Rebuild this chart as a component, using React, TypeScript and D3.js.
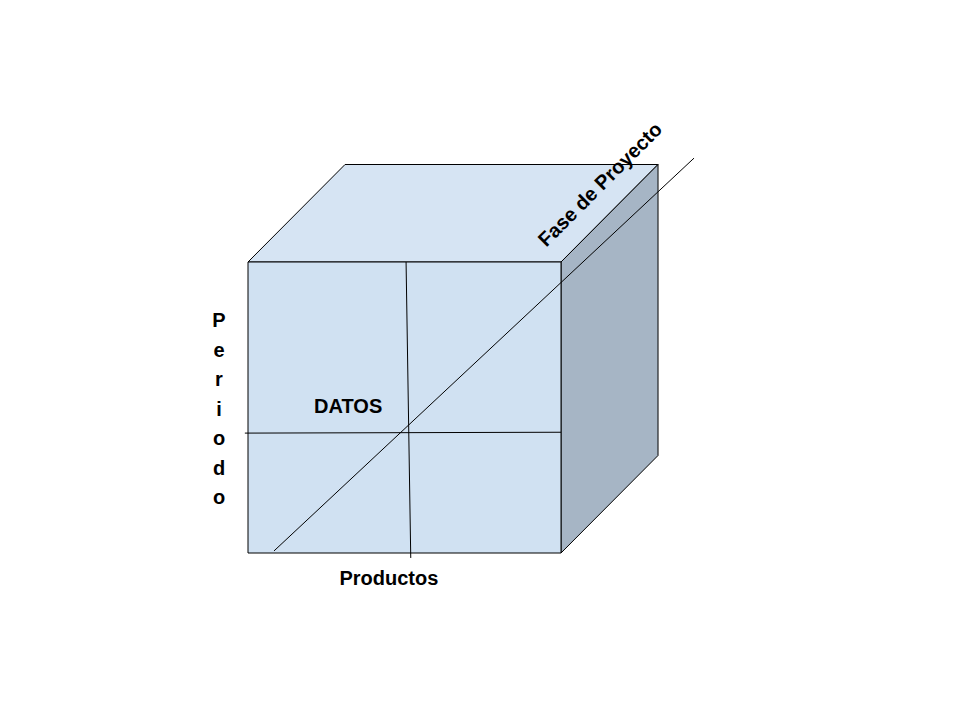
import React from 'react';
import * as d3 from 'd3';

// cube geometry in unit space (front face 0..1, depth offset)
const frontFace: [number, number][] = [[0, 0], [1, 0], [1, 1], [0, 1]];
const depth = { dx: 0.31, dy: 0.335 };
const axisLabels = ['Productos', 'Periodo', 'Fase de Proyecto'];
const centerLabel = 'DATOS';

const W = 960;
const H = 720;

export default function App() {
  const x = d3.scaleLinear().domain([0, 1]).range([248, 561]);
  const y = d3.scaleLinear().domain([0, 1]).range([553, 262]);
  const dxPx = x(depth.dx) - x(0);
  const dyPx = y(0) - y(depth.dy);
  const line = d3.line<[number, number]>().x((d) => d[0]).y((d) => d[1]);
  const front = frontFace.map(([a, b]) => [x(a), y(b)] as [number, number]);
  const top: [number, number][] = [
    [x(0), y(1)], [x(1), y(1)], [x(1) + dxPx, y(1) - dyPx], [x(0) + dxPx, y(1) - dyPx],
  ];
  const right: [number, number][] = [
    [x(1), y(0)], [x(1), y(1)], [x(1) + dxPx, y(1) - dyPx], [x(1) + dxPx, y(0) - dyPx],
  ];
  const font = 'Liberation Sans, Arial, sans-serif';
  const letters = axisLabels[1].split('');
  return (
    <svg width={W} height={H} style={{ position: 'absolute', left: 0, top: 0, background: '#fff' }}>
      <path d={line(top)! + 'Z'} fill="#d6e4f3" stroke="#000" strokeWidth={1} />
      <path d={line(right)! + 'Z'} fill="#a6b5c5" stroke="#000" strokeWidth={1} />
      <path d={line(front)! + 'Z'} fill="#d0e1f2" stroke="#000" strokeWidth={1} />
      <line x1={x(0.505)} y1={y(1)} x2={x(0.52)} y2={y(-0.017)} stroke="#000" />
      <line x1={x(-0.01)} y1={y(0.412)} x2={x(1)} y2={y(0.415)} stroke="#000" />
      <line x1={x(0.083)} y1={y(0.007)} x2={x(1.425)} y2={y(1.357)} stroke="#000" />
      <text x={x(0.32)} y={y(0.48)} textAnchor="middle" fontFamily={font} fontWeight="bold" fontSize={20}>{centerLabel}</text>
      <text x={x(0.45)} y={y(-0.11)} textAnchor="middle" fontFamily={font} fontWeight="bold" fontSize={20}>{axisLabels[0]}</text>
      {letters.map((c, i) => (
        <text key={i} x={219} y={327 + i * 29.5} textAnchor="middle" fontFamily={font} fontWeight="bold" fontSize={20}>{c}</text>
      ))}
      <text transform={`translate(${x(1.14)},${y(1.25)}) rotate(-45)`} textAnchor="middle" fontFamily={font} fontWeight="bold" fontSize={20}>{axisLabels[2]}</text>
    </svg>
  );
}
